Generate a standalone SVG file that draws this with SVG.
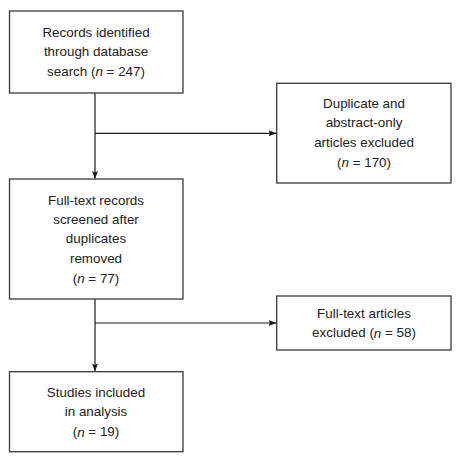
<svg xmlns="http://www.w3.org/2000/svg" width="460" height="463" viewBox="0 0 460 463">
<defs>
<marker id="ah" markerWidth="8" markerHeight="6" refX="7.5" refY="3" orient="auto" markerUnits="userSpaceOnUse">
<path d="M0,0 L8,3 L0,6 L1.5,3 Z" fill="#1a1a1a"/>
</marker>
<style>
rect{fill:#fff;stroke:#3a3a3a;stroke-width:1.3}
text{font-family:"Liberation Sans",Arial,sans-serif;font-size:13.4px;fill:#222;text-anchor:middle;dominant-baseline:central}
.c{stroke:#1a1a1a;stroke-width:1.2;fill:none}
</style>
</defs>
<rect width="460" height="463" style="fill:#fff;stroke:none"/>
<g id="connectors">
<line class="c" x1="95" y1="93" x2="95" y2="178.5" marker-end="url(#ah)"/>
<line class="c" x1="95" y1="133.3" x2="276" y2="133.3" marker-end="url(#ah)"/>
<line class="c" x1="95" y1="299" x2="95" y2="371" marker-end="url(#ah)"/>
<line class="c" x1="95" y1="323" x2="276" y2="323" marker-end="url(#ah)"/>
</g>
<g id="n1">
<rect x="9.5" y="11" width="173.5" height="82"/>
<text x="96" y="32.7">Records identified</text>
<text x="96" y="51.7">through database</text>
<text x="96" y="71">search (<tspan font-style="italic">n</tspan> = 247)</text>
</g>
<g id="n2">
<rect x="276.7" y="83.3" width="174.3" height="99.7"/>
<text x="364" y="103.3">Duplicate and</text>
<text x="364" y="122.5">abstract-only</text>
<text x="364" y="142.5">articles excluded</text>
<text x="364" y="162">(<tspan font-style="italic">n</tspan> = 170)</text>
</g>
<g id="n3">
<rect x="9.5" y="179" width="173.5" height="120"/>
<text x="96" y="200.5">Full-text records</text>
<text x="96" y="219.5">screened after</text>
<text x="96" y="238.5">duplicates</text>
<text x="96" y="258">removed</text>
<text x="96" y="278">(<tspan font-style="italic">n</tspan> = 77)</text>
</g>
<g id="n4">
<rect x="276.7" y="296" width="174.3" height="54"/>
<text x="364" y="313">Full-text articles</text>
<text x="364" y="332.5">excluded (<tspan font-style="italic">n</tspan> = 58)</text>
</g>
<g id="n5">
<rect x="9.5" y="371.7" width="173.5" height="80"/>
<text x="96" y="392">Studies included</text>
<text x="96" y="411.7">in analysis</text>
<text x="96" y="431.7">(<tspan font-style="italic">n</tspan> = 19)</text>
</g>
</svg>
